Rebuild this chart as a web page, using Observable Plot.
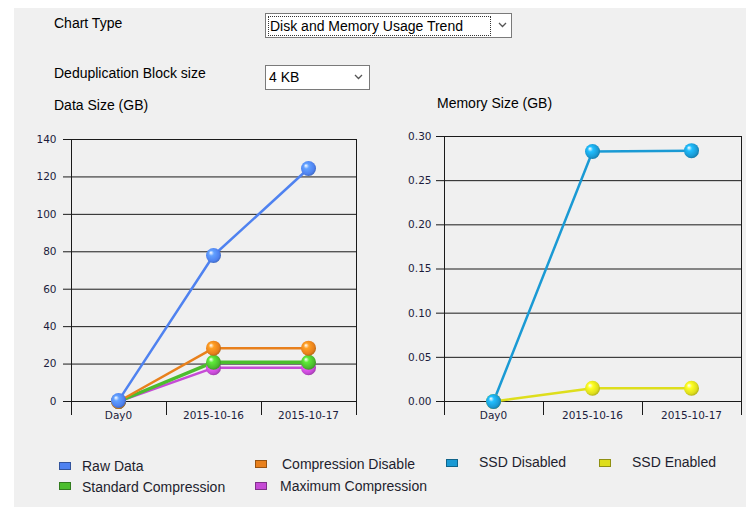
<!DOCTYPE html>
<html><head><meta charset="utf-8">
<script src="https://cdn.jsdelivr.net/npm/d3@7"></script>
<script src="https://cdn.jsdelivr.net/npm/@observablehq/plot@0.6"></script>
<style>
body{margin:0;background:#fff;font-family:"Liberation Sans",Arial,sans-serif;width:746px;height:507px;position:relative;overflow:hidden;}
#panel{position:absolute;left:14px;top:8px;width:732px;height:499px;background:#f0f0f0;}
.lbl{position:absolute;font-size:14px;line-height:16px;color:#000;white-space:nowrap;}
.sel{position:absolute;background:#fff;border:1px solid #7a7a7a;box-sizing:border-box;font-size:14px;line-height:16px;color:#000;}
.sel .txt{position:absolute;left:2px;top:2px;padding:1px 1px;white-space:nowrap;}
.sel .focus{border:1px dotted #333;}
.sel svg{position:absolute;top:8px;}
.chart{position:absolute;}
.leg{position:absolute;font-size:14px;line-height:16px;color:#1e1e2e;white-space:nowrap;}
.sw{position:absolute;width:12px;height:8px;box-sizing:border-box;border:1px solid rgba(0,0,0,0.35);}
</style>
</head><body>
<div id="panel"></div>
<div class="lbl" style="left:54px;top:15px">Chart Type</div>
<div class="sel" style="left:265px;top:13px;width:247px;height:25px">
  <div class="txt focus" style="width:219px;height:16px;">Disk and Memory Usage Trend</div>
  <svg style="left:232px" width="9" height="6"><polyline points="1,1 4.5,4.5 8,1" fill="none" stroke="#555" stroke-width="1.3"/></svg>
</div>
<div class="lbl" style="left:54px;top:65px">Deduplication Block size</div>
<div class="sel" style="left:265px;top:65px;width:105px;height:25px">
  <div class="txt">4 KB</div>
  <svg style="left:88px" width="9" height="6"><polyline points="1,1 4.5,4.5 8,1" fill="none" stroke="#555" stroke-width="1.3"/></svg>
</div>
<div class="lbl" style="left:54px;top:97px">Data Size (GB)</div>
<div class="lbl" style="left:437px;top:95px">Memory Size (GB)</div>
<div id="left" class="chart" style="left:0;top:120px"></div>
<div id="right" class="chart" style="left:370px;top:120px"></div>
<div id="legend"></div>
<script>
// ---- data ----
const categories = ["Day0", "2015-10-16", "2015-10-17"];
const dataSeries = ["Raw Data", "Compression Disable", "Standard Compression", "Maximum Compression"];
const rawData = [0.5, 78, 124.5];
const compressionDisable = [0, 28.5, 28.5];
const standardCompression = [0, 21, 21];
const maximumCompression = [0, 18, 18];
const memSeries = ["SSD Disabled", "SSD Enabled"];
const ssdDisabled = [0, 0.283, 0.284];
const ssdEnabled = [0, 0.015, 0.015];
const dataTicks = [0, 20, 40, 60, 80, 100, 120, 140];
const memTicks = [0, 0.05, 0.10, 0.15, 0.20, 0.25, 0.30];

const colors = {
  "Raw Data": "#4f82f0",
  "Compression Disable": "#e8801c",
  "Standard Compression": "#4cbd2e",
  "Maximum Compression": "#c64bd6",
  "SSD Disabled": "#1a9ad4",
  "SSD Enabled": "#dede1c"
};
const widths = {
  "Raw Data": 2.5, "Compression Disable": 2.5, "Standard Compression": 3.5,
  "Maximum Compression": 2.5, "SSD Disabled": 2.5, "SSD Enabled": 2.5
};

function rows(name, vals) { return vals.map((v, i) => ({series: name, cat: categories[i], value: v})); }
const leftRows = {
  "Maximum Compression": rows("Maximum Compression", maximumCompression),
  "Standard Compression": rows("Standard Compression", standardCompression),
  "Compression Disable": rows("Compression Disable", compressionDisable),
  "Raw Data": rows("Raw Data", rawData)
};
const rightRows = {
  "SSD Enabled": rows("SSD Enabled", ssdEnabled),
  "SSD Disabled": rows("SSD Disabled", ssdDisabled)
};
const gid = s => "g" + s.replace(/\s+/g, "");

function makeChart(el, series, ticks, fmt, opts) {
  const marks = [
    Plot.gridY(ticks, {stroke: "#1a1a1a", strokeOpacity: 1, strokeWidth: 1}),
    Plot.axisY(ticks, {tickFormat: fmt, tickSize: 6, tickPadding: opts.tickPad, stroke: "#1a1a1a", fill: "#1c1c3c", fontSize: 10.5}),
    Plot.axisX({tickSize: 0, tickPadding: 10, fill: "#1c1c3c", fontSize: 10.5})
  ];
  for (const name of Object.keys(series)) {
    marks.push(Plot.line(series[name], {x: "cat", y: "value", stroke: colors[name], strokeWidth: widths[name]}));
  }
  for (const name of Object.keys(series)) {
    marks.push(Plot.dot(series[name], {x: "cat", y: "value", r: 7.5, fill: `url(#${gid(name)})`, stroke: "none"}));
  }
  const chart = Plot.plot({
    width: opts.width, height: 310,
    marginLeft: opts.ml, marginRight: opts.mr, marginTop: opts.mt, marginBottom: 29,
    style: {background: "transparent", fontFamily: "'DejaVu Sans', sans-serif", fontSize: "10.5px", color: "#1c1c3c", overflow: "visible"},
    x: {type: "point", domain: categories, padding: 0.5, label: null},
    y: {domain: [ticks[0], ticks[ticks.length - 1]], label: null},
    marks
  });
  const svg = d3.select(chart);
  // gradients for the sphere markers
  const defs = svg.insert("defs", ":first-child");
  for (const name of Object.keys(series)) {
    const c = d3.color(colors[name]);
    const g = defs.append("radialGradient").attr("id", gid(name)).attr("cx", "45%").attr("cy", "45%").attr("r", "60%").attr("fx", "32%").attr("fy", "30%");
    g.append("stop").attr("offset", "0%").attr("stop-color", "#ffffff");
    g.append("stop").attr("offset", "30%").attr("stop-color", c.brighter(0.6).formatHex());
    g.append("stop").attr("offset", "75%").attr("stop-color", c.formatHex());
    g.append("stop").attr("offset", "100%").attr("stop-color", c.darker(0.8).formatHex());
  }
  // category boundary ticks and frame verticals, from the x and y scales
  const xs = chart.scale("x"), ys = chart.scale("y");
  const step = xs.apply(categories[1]) - xs.apply(categories[0]);
  const edges = categories.map(c => xs.apply(c) - step / 2);
  edges.push(xs.apply(categories[categories.length - 1]) + step / 2);
  const yTop = ys.apply(ticks[ticks.length - 1]), yBot = ys.apply(ticks[0]);
  const g = svg.append("g").attr("stroke", "#1a1a1a").attr("stroke-width", 1);
  edges.forEach((x, i) => {
    const full = i === 0 || i === edges.length - 1;
    g.append("line").attr("x1", Math.round(x) + 0.5).attr("x2", Math.round(x) + 0.5)
      .attr("y1", full ? yTop : yBot).attr("y2", yBot + 14);
  });
  // keep markers on top
  svg.selectAll("g[aria-label=dot]").raise();
  document.getElementById(el).appendChild(chart);
}

makeChart("left", leftRows, dataTicks, d => d3.format("d")(d), {width: 370, ml: 69, mr: 14, mt: 19, tickPad: 7});
makeChart("right", rightRows, memTicks, d => d3.format(".2f")(d), {width: 376, ml: 72, mr: 5, mt: 16, tickPad: 5});

// ---- legend ----
const legendItems = [
  {name: "Raw Data", sx: 59, sy: 462, tx: 82, ty: 458},
  {name: "Compression Disable", sx: 255, sy: 460, tx: 282, ty: 456},
  {name: "SSD Disabled", sx: 446, sy: 459, tx: 479, ty: 454},
  {name: "SSD Enabled", sx: 599, sy: 459, tx: 632, ty: 454},
  {name: "Standard Compression", sx: 59, sy: 482, tx: 82, ty: 479},
  {name: "Maximum Compression", sx: 255, sy: 482, tx: 280, ty: 478}
];
const leg = document.getElementById("legend");
for (const it of legendItems) {
  const sw = document.createElement("div");
  sw.className = "sw";
  sw.style.left = it.sx + "px"; sw.style.top = it.sy + "px";
  sw.style.background = colors[it.name];
  leg.appendChild(sw);
  const t = document.createElement("div");
  t.className = "leg";
  t.style.left = it.tx + "px"; t.style.top = it.ty + "px";
  t.textContent = it.name;
  leg.appendChild(t);
}
</script>
</body></html>
